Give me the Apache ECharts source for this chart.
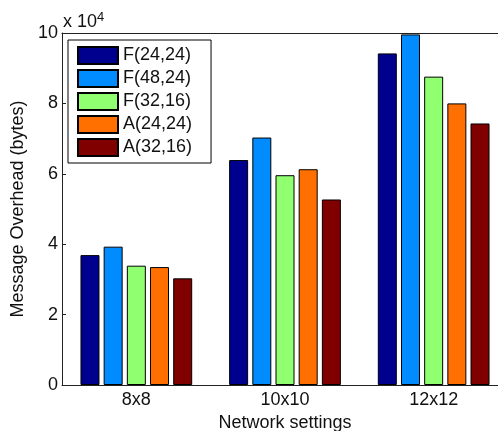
<!DOCTYPE html>
<html>
<head>
<meta charset="utf-8">
<script src="https://cdn.jsdelivr.net/npm/echarts@6/dist/echarts.min.js"></script>
<style>html,body{margin:0;padding:0;background:#fff;}#c{width:498px;height:431px;}</style>
</head>
<body>
<div id="c"></div>
<script>
const categories = ['8x8', '10x10', '12x12'];
const seriesNames = ['F(24,24)', 'F(48,24)', 'F(32,16)', 'A(24,24)', 'A(32,16)'];
const f2424 = [3.69, 6.39, 9.42];
const f4824 = [3.93, 7.03, 9.96];
const f3216 = [3.39, 5.96, 8.76];
const a2424 = [3.35, 6.13, 8.00];
const a3216 = [3.03, 5.27, 7.43];
const yTicks = [0, 2, 4, 6, 8, 10];
const colors = ['#00008F', '#008CFF', '#90FF70', '#FF7000', '#800000'];
const values = [f2424, f4824, f3216, a2424, a3216];

const FONT = 'Liberation Sans, Arial, Helvetica, sans-serif';
const chart = echarts.init(document.getElementById('c'), null, {renderer: 'canvas'});
const series = seriesNames.map((n, i) => ({
  name: n,
  type: 'bar',
  data: values[i],
  barWidth: 19,
  barGap: '22%',
  itemStyle: {color: colors[i], borderColor: '#000', borderWidth: 1},
  emphasis: {disabled: true}
}));
chart.setOption({
  animation: false,
  backgroundColor: '#fff',
  textStyle: {fontFamily: FONT},
  grid: {left: 62, top: 33, width: 446, height: 352, containLabel: false, outerBoundsMode: 'none'},
  legend: {
    orient: 'vertical',
    left: 68, top: 40,
    itemWidth: 40, itemHeight: 17, itemGap: 4,
    padding: [6, 19, 6, 9],
    borderColor: '#000', borderWidth: 1, backgroundColor: '#fff',
    icon: 'rect',
    textStyle: {fontSize: 18, color: '#111', fontFamily: FONT},
    data: seriesNames
  },
  xAxis: [{
    type: 'category', data: categories, position: 'bottom',
    name: 'Network settings', nameLocation: 'middle', nameGap: 29,
    nameTextStyle: {fontSize: 18, color: '#111', fontFamily: FONT},
    axisLine: {lineStyle: {color: '#222', width: 1}},
    axisTick: {inside: true, alignWithLabel: true, length: 4, lineStyle: {color: '#222'}},
    axisLabel: {fontSize: 18, color: '#111', margin: 6, fontFamily: FONT},
    splitLine: {show: false}
  }, {
    type: 'category', data: categories, position: 'top',
    axisLine: {lineStyle: {color: '#222', width: 1}},
    axisTick: {inside: true, alignWithLabel: true, length: 4, lineStyle: {color: '#222'}},
    axisLabel: {show: false}
  }],
  yAxis: [{
    type: 'value', min: 0, max: 10, interval: 2,
    name: 'Message Overhead (bytes)', nameLocation: 'middle', nameGap: 31,
    nameTextStyle: {fontSize: 18, color: '#111', fontFamily: FONT},
    axisLine: {show: true, lineStyle: {color: '#222', width: 1}},
    axisTick: {show: true, inside: true, length: 4, lineStyle: {color: '#222'}},
    axisLabel: {fontSize: 18, color: '#111', margin: 4, fontFamily: FONT,
      formatter: v => yTicks.includes(v) ? String(v) : ''},
    splitLine: {show: false}
  }],
  graphic: [{
    type: 'text', left: 63, top: 11,
    style: {
      text: 'x 10{sup|4}',
      font: '18px ' + FONT,
      fill: '#111',
      rich: {sup: {fontSize: 13, verticalAlign: 'top', padding: [0, 0, 10, 0], fontFamily: FONT}}
    }
  }],
  series: series
});
</script>
</body>
</html>
